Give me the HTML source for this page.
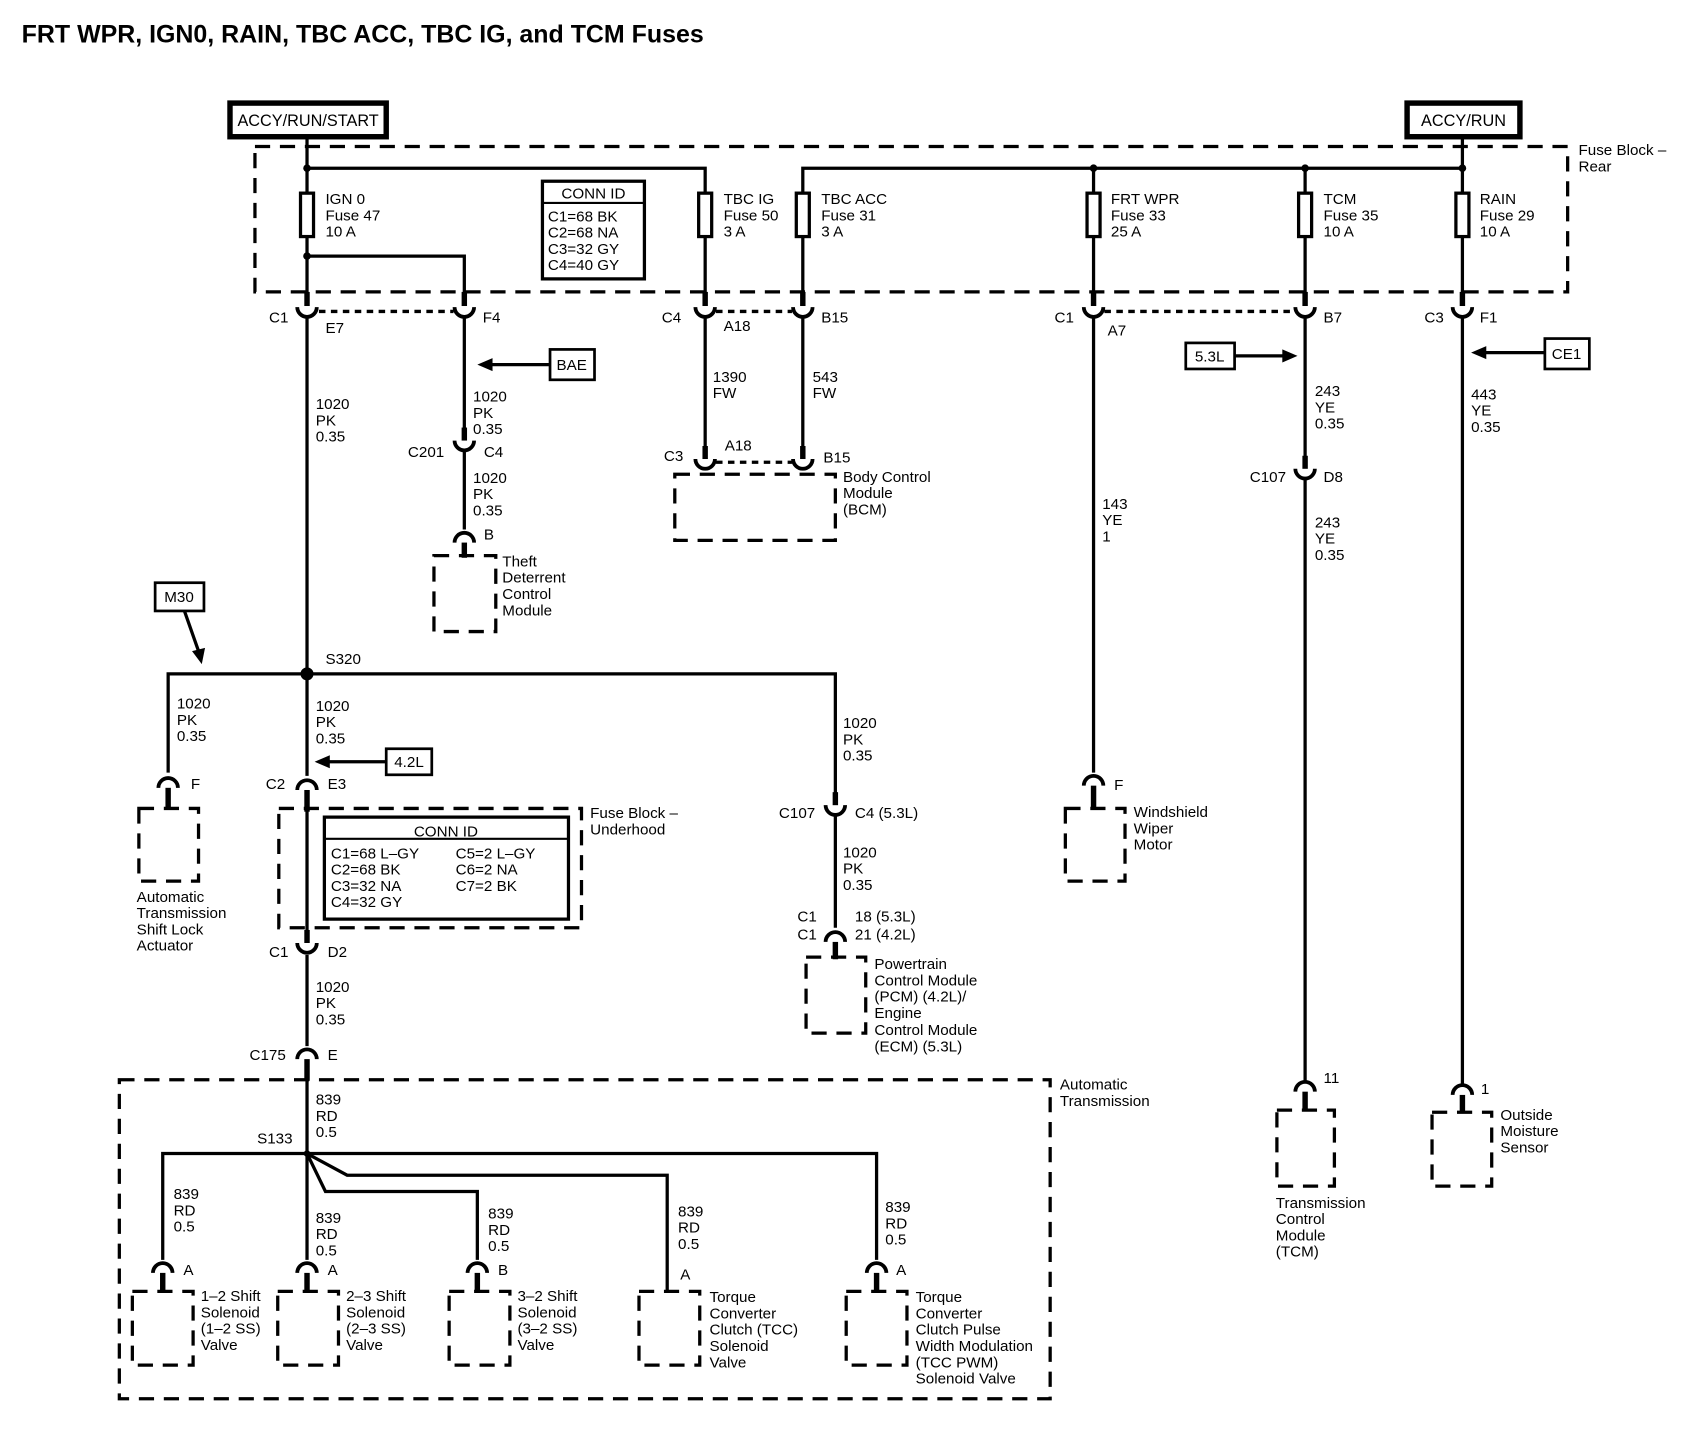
<!DOCTYPE html>
<html><head><meta charset="utf-8"><style>
html,body{margin:0;padding:0;background:#fff;}
svg{display:block;}
text{font-family:"Liberation Sans",Arial,sans-serif;font-size:14px;fill:#000;}
.t{font-size:14px;}
</style></head><body>
<svg width="1700" height="1440" viewBox="0 0 1567 1327" preserveAspectRatio="none" xmlns="http://www.w3.org/2000/svg">
<g fill="none" stroke="#000">
<g stroke-width="3" stroke-dasharray="14,9">
<rect x="235" y="135" width="1210" height="134"/>
<rect x="257" y="745" width="279" height="110"/>
<rect x="110" y="995" width="858" height="294"/>
<rect x="400" y="512" width="57" height="70"/>
<rect x="622" y="437" width="148" height="61"/>
<rect x="982" y="745" width="55" height="67"/>
<rect x="1177" y="1023" width="53" height="70"/>
<rect x="1320" y="1025" width="55" height="68"/>
<rect x="128" y="745" width="55" height="67"/>
<rect x="743" y="882" width="55" height="70"/>
<rect x="122" y="1190" width="56" height="68"/>
<rect x="256" y="1190" width="56" height="68"/>
<rect x="414" y="1190" width="56" height="68"/>
<rect x="589" y="1190" width="56" height="68"/>
<rect x="780" y="1190" width="56" height="68"/>
</g>
<g stroke-width="3" stroke-dasharray="6,5">
<line x1="294" y1="287" x2="418" y2="287"/>
<line x1="660" y1="287" x2="730" y2="287"/>
<line x1="1018" y1="287" x2="1193" y2="287"/>
<line x1="660" y1="426" x2="730" y2="426"/>
</g>
<g stroke-width="3">
<polyline points="283,127 283,155 650,155 650,280"/>
<polyline points="1348,127 1348,155 740,155 740,280"/>
<line x1="283" y1="155" x2="283" y2="280"/>
<polyline points="283,236 428,236 428,280"/>
<line x1="1008" y1="155" x2="1008" y2="280"/>
<line x1="1203" y1="155" x2="1203" y2="280"/>
<line x1="1348" y1="155" x2="1348" y2="280"/>
<line x1="283" y1="293" x2="283" y2="715"/>
<line x1="428" y1="293" x2="428" y2="403"/>
<line x1="428" y1="416" x2="428" y2="488"/>
<line x1="650" y1="293" x2="650" y2="415"/>
<line x1="740" y1="293" x2="740" y2="415"/>
<line x1="1008" y1="293" x2="1008" y2="712"/>
<line x1="1203" y1="293" x2="1203" y2="428"/>
<line x1="1203" y1="442" x2="1203" y2="996"/>
<line x1="1348" y1="293" x2="1348" y2="999"/>
<polyline points="155,712 155,621 770,621 770,738"/>
<line x1="770" y1="752" x2="770" y2="855"/>
<line x1="283" y1="740" x2="283" y2="866"/>
<line x1="283" y1="880" x2="283" y2="964"/>
<line x1="283" y1="985" x2="283" y2="1063"/>
<polyline points="150,1161 150,1063 808,1063 808,1161"/>
<line x1="283" y1="1063" x2="283" y2="1161"/>
<polyline points="283,1063 300,1098 440,1098 440,1161"/>
<polyline points="283,1063 320,1083 615,1083 615,1190"/>
<line x1="170" y1="563" x2="183" y2="600"/>
<line x1="355" y1="702" x2="300" y2="702"/>
<line x1="506" y1="336" x2="450" y2="336"/>
<line x1="1138" y1="328" x2="1186" y2="328"/>
<line x1="1423" y1="325" x2="1366" y2="325"/>
</g>
<g stroke-width="3.5">
<path d="M274,283 A9,9 0 0 0 292,283"/>
<path d="M419,283 A9,9 0 0 0 437,283"/>
<path d="M641,283 A9,9 0 0 0 659,283"/>
<path d="M731,283 A9,9 0 0 0 749,283"/>
<path d="M999,283 A9,9 0 0 0 1017,283"/>
<path d="M1194,283 A9,9 0 0 0 1212,283"/>
<path d="M1339,283 A9,9 0 0 0 1357,283"/>
<path d="M419,406 A9,9 0 0 0 437,406"/>
<path d="M641,423 A9,9 0 0 0 659,423"/>
<path d="M731,423 A9,9 0 0 0 749,423"/>
<path d="M1194,432 A9,9 0 0 0 1212,432"/>
<path d="M761,742 A9,9 0 0 0 779,742"/>
<path d="M274,869 A9,9 0 0 0 292,869"/>
<path d="M419,500 A9,9 0 0 1 437,500"/>
<path d="M146,726 A9,9 0 0 1 164,726"/>
<path d="M274,728 A9,9 0 0 1 292,728"/>
<path d="M761,868 A9,9 0 0 1 779,868"/>
<path d="M274,976 A9,9 0 0 1 292,976"/>
<path d="M999,724 A9,9 0 0 1 1017,724"/>
<path d="M1194,1006 A9,9 0 0 1 1212,1006"/>
<path d="M1339,1009 A9,9 0 0 1 1357,1009"/>
<path d="M141,1173 A9,9 0 0 1 159,1173"/>
<path d="M274,1173 A9,9 0 0 1 292,1173"/>
<path d="M431,1173 A9,9 0 0 1 449,1173"/>
<path d="M799,1173 A9,9 0 0 1 817,1173"/>
</g>
<g stroke-width="3" fill="#fff">
<rect x="277" y="178" width="12" height="40"/>
<rect x="644" y="178" width="12" height="40"/>
<rect x="734" y="178" width="12" height="40"/>
<rect x="1002" y="178" width="12" height="40"/>
<rect x="1197" y="178" width="12" height="40"/>
<rect x="1342" y="178" width="12" height="40"/>
</g>
<rect x="212" y="95" width="144" height="31" stroke-width="5"/>
<rect x="1297" y="95" width="104" height="31" stroke-width="5"/>
<rect x="500" y="167" width="94" height="90" stroke-width="3"/>
<line x1="500" y1="187" x2="594" y2="187" stroke-width="2"/>
<rect x="299" y="753" width="225" height="94" stroke-width="3"/>
<line x1="299" y1="773" x2="524" y2="773" stroke-width="2"/>
<rect x="507" y="322" width="41" height="28" stroke-width="2.5"/>
<rect x="1093" y="316" width="45" height="24" stroke-width="2.5"/>
<rect x="1424" y="312" width="41" height="28" stroke-width="2.5"/>
<rect x="143" y="537" width="45" height="26" stroke-width="2.5"/>
<rect x="356" y="690" width="42" height="24" stroke-width="2.5"/>
</g>
<g fill="#000">
<rect x="280.5" y="269" width="5" height="13"/><rect x="425.5" y="269" width="5" height="13"/>
<rect x="647.5" y="269" width="5" height="13"/><rect x="737.5" y="269" width="5" height="13"/>
<rect x="1005.5" y="269" width="5" height="13"/><rect x="1200.5" y="269" width="5" height="13"/>
<rect x="1345.5" y="269" width="5" height="13"/>
<rect x="425.5" y="394" width="5" height="12"/>
<rect x="647.5" y="411" width="5" height="12"/><rect x="737.5" y="411" width="5" height="12"/>
<rect x="1200.5" y="420" width="5" height="12"/>
<rect x="767.5" y="730" width="5" height="12"/>
<rect x="280.5" y="857" width="5" height="12"/>
<rect x="425.5" y="500" width="5" height="14"/>
<rect x="152.5" y="726" width="5" height="20"/>
<rect x="280.5" y="728" width="5" height="20"/>
<rect x="767.5" y="868" width="5" height="16"/>
<rect x="280.5" y="976" width="5" height="20"/>
<rect x="1005.5" y="724" width="5" height="22"/>
<rect x="1200.5" y="1006" width="5" height="18"/>
<rect x="1345.5" y="1009" width="5" height="17"/>
<rect x="147.5" y="1173" width="5" height="18"/>
<rect x="280.5" y="1173" width="5" height="18"/>
<rect x="437.5" y="1173" width="5" height="18"/>
<rect x="805.5" y="1173" width="5" height="18"/>
<circle cx="283" cy="155" r="3.5"/><circle cx="283" cy="236" r="3.5"/>
<circle cx="1008" cy="155" r="3.5"/><circle cx="1203" cy="155" r="3.5"/><circle cx="1348" cy="155" r="3.5"/>
<circle cx="283" cy="621" r="6"/><circle cx="283" cy="1063" r="3"/>
<polygon points="440,336 454,330 454,342"/>
<polygon points="1196,328 1182,322 1182,334"/>
<polygon points="1356,325 1370,319 1370,331"/>
<polygon points="290,702 304,696 304,708"/>
<polygon points="186,612 177,600 189,597"/>
</g>
<text x="20" y="39" style="font-size:23px;font-weight:bold">FRT WPR, IGN0, RAIN, TBC ACC, TBC IG, and TCM Fuses</text>
<text x="284" y="116" text-anchor="middle" style="font-size:15px">ACCY/RUN/START</text>
<text x="1349" y="116" text-anchor="middle" style="font-size:15px">ACCY/RUN</text>
<text x="1455" y="143">Fuse Block –</text><text x="1455" y="158">Rear</text>
<text x="300" y="188">IGN 0</text><text x="300" y="203">Fuse 47</text><text x="300" y="218">10 A</text>
<text x="667" y="188">TBC IG</text><text x="667" y="203">Fuse 50</text><text x="667" y="218">3 A</text>
<text x="757" y="188">TBC ACC</text><text x="757" y="203">Fuse 31</text><text x="757" y="218">3 A</text>
<text x="1024" y="188">FRT WPR</text><text x="1024" y="203">Fuse 33</text><text x="1024" y="218">25 A</text>
<text x="1220" y="188">TCM</text><text x="1220" y="203">Fuse 35</text><text x="1220" y="218">10 A</text>
<text x="1364" y="188">RAIN</text><text x="1364" y="203">Fuse 29</text><text x="1364" y="218">10 A</text>
<text x="547" y="183" text-anchor="middle">CONN ID</text>
<text x="505" y="204">C1=68 BK</text><text x="505" y="219">C2=68 NA</text><text x="505" y="234">C3=32 GY</text><text x="505" y="249">C4=40 GY</text>
<text x="248" y="297">C1</text><text x="300" y="307">E7</text><text x="445" y="297">F4</text>
<text x="610" y="297">C4</text><text x="667" y="305">A18</text><text x="757" y="297">B15</text>
<text x="972" y="297">C1</text><text x="1021" y="309">A7</text><text x="1220" y="297">B7</text>
<text x="1313" y="297">C3</text><text x="1364" y="297">F1</text>
<text x="527" y="341" text-anchor="middle">BAE</text>
<text x="1115" y="333" text-anchor="middle">5.3L</text>
<text x="1444" y="331" text-anchor="middle">CE1</text>
<text x="165" y="555" text-anchor="middle">M30</text>
<text x="377" y="707" text-anchor="middle">4.2L</text>
<text x="291" y="377">1020</text><text x="291" y="392">PK</text><text x="291" y="407">0.35</text>
<text x="436" y="370">1020</text><text x="436" y="385">PK</text><text x="436" y="400">0.35</text>
<text x="376" y="421">C201</text><text x="446" y="421">C4</text>
<text x="436" y="445">1020</text><text x="436" y="460">PK</text><text x="436" y="475">0.35</text>
<text x="446" y="497">B</text>
<text x="463" y="522">Theft</text><text x="463" y="537">Deterrent</text><text x="463" y="552">Control</text><text x="463" y="567">Module</text>
<text x="657" y="352">1390</text><text x="657" y="367">FW</text>
<text x="749" y="352">543</text><text x="749" y="367">FW</text>
<text x="612" y="425">C3</text><text x="668" y="415">A18</text><text x="759" y="426">B15</text>
<text x="777" y="444">Body Control</text><text x="777" y="459">Module</text><text x="777" y="474">(BCM)</text>
<text x="1016" y="469">143</text><text x="1016" y="484">YE</text><text x="1016" y="499">1</text>
<text x="1027" y="728">F</text>
<text x="1045" y="753">Windshield</text><text x="1045" y="768">Wiper</text><text x="1045" y="783">Motor</text>
<text x="1212" y="365">243</text><text x="1212" y="380">YE</text><text x="1212" y="395">0.35</text>
<text x="1152" y="444">C107</text><text x="1220" y="444">D8</text>
<text x="1212" y="486">243</text><text x="1212" y="501">YE</text><text x="1212" y="516">0.35</text>
<text x="1220" y="998">11</text>
<text x="1176" y="1113">Transmission</text><text x="1176" y="1128">Control</text><text x="1176" y="1143">Module</text><text x="1176" y="1158">(TCM)</text>
<text x="1356" y="368">443</text><text x="1356" y="383">YE</text><text x="1356" y="398">0.35</text>
<text x="1365" y="1008">1</text>
<text x="1383" y="1032">Outside</text><text x="1383" y="1047">Moisture</text><text x="1383" y="1062">Sensor</text>
<text x="300" y="612">S320</text>
<text x="163" y="653">1020</text><text x="163" y="668">PK</text><text x="163" y="683">0.35</text>
<text x="176" y="727">F</text>
<text x="126" y="831">Automatic</text><text x="126" y="846">Transmission</text><text x="126" y="861">Shift Lock</text><text x="126" y="876">Actuator</text>
<text x="291" y="655">1020</text><text x="291" y="670">PK</text><text x="291" y="685">0.35</text>
<text x="245" y="727">C2</text><text x="302" y="727">E3</text>
<text x="544" y="754">Fuse Block –</text><text x="544" y="769">Underhood</text>
<text x="411" y="771" text-anchor="middle">CONN ID</text>
<text x="305" y="791">C1=68 L–GY</text><text x="305" y="806">C2=68 BK</text><text x="305" y="821">C3=32 NA</text><text x="305" y="836">C4=32 GY</text>
<text x="420" y="791">C5=2 L–GY</text><text x="420" y="806">C6=2 NA</text><text x="420" y="821">C7=2 BK</text>
<text x="248" y="882">C1</text><text x="302" y="882">D2</text>
<text x="291" y="914">1020</text><text x="291" y="929">PK</text><text x="291" y="944">0.35</text>
<text x="230" y="977">C175</text><text x="302" y="977">E</text>
<text x="777" y="671">1020</text><text x="777" y="686">PK</text><text x="777" y="701">0.35</text>
<text x="718" y="754">C107</text><text x="788" y="754">C4 (5.3L)</text>
<text x="777" y="790">1020</text><text x="777" y="805">PK</text><text x="777" y="820">0.35</text>
<text x="735" y="849">C1</text><text x="788" y="849">18 (5.3L)</text>
<text x="735" y="866">C1</text><text x="788" y="866">21 (4.2L)</text>
<text x="806" y="893">Powertrain</text><text x="806" y="908">Control Module</text><text x="806" y="923">(PCM) (4.2L)/</text><text x="806" y="938">Engine</text><text x="806" y="954">Control Module</text><text x="806" y="969">(ECM) (5.3L)</text>
<text x="977" y="1004">Automatic</text><text x="977" y="1019">Transmission</text>
<text x="291" y="1018">839</text><text x="291" y="1033">RD</text><text x="291" y="1048">0.5</text>
<text x="237" y="1054">S133</text>
<text x="160" y="1105">839</text><text x="160" y="1120">RD</text><text x="160" y="1135">0.5</text>
<text x="291" y="1127">839</text><text x="291" y="1142">RD</text><text x="291" y="1157">0.5</text>
<text x="450" y="1123">839</text><text x="450" y="1138">RD</text><text x="450" y="1153">0.5</text>
<text x="625" y="1121">839</text><text x="625" y="1136">RD</text><text x="625" y="1151">0.5</text>
<text x="816" y="1117">839</text><text x="816" y="1132">RD</text><text x="816" y="1147">0.5</text>
<text x="169" y="1175">A</text><text x="302" y="1175">A</text><text x="459" y="1175">B</text><text x="627" y="1179">A</text><text x="826" y="1175">A</text>
<text x="185" y="1199">1–2 Shift</text><text x="185" y="1214">Solenoid</text><text x="185" y="1229">(1–2 SS)</text><text x="185" y="1244">Valve</text>
<text x="319" y="1199">2–3 Shift</text><text x="319" y="1214">Solenoid</text><text x="319" y="1229">(2–3 SS)</text><text x="319" y="1244">Valve</text>
<text x="477" y="1199">3–2 Shift</text><text x="477" y="1214">Solenoid</text><text x="477" y="1229">(3–2 SS)</text><text x="477" y="1244">Valve</text>
<text x="654" y="1200">Torque</text><text x="654" y="1215">Converter</text><text x="654" y="1230">Clutch (TCC)</text><text x="654" y="1245">Solenoid</text><text x="654" y="1260">Valve</text>
<text x="844" y="1200">Torque</text><text x="844" y="1215">Converter</text><text x="844" y="1230">Clutch Pulse</text><text x="844" y="1245">Width Modulation</text><text x="844" y="1260">(TCC PWM)</text><text x="844" y="1275">Solenoid Valve</text>
</svg>
</body></html>
